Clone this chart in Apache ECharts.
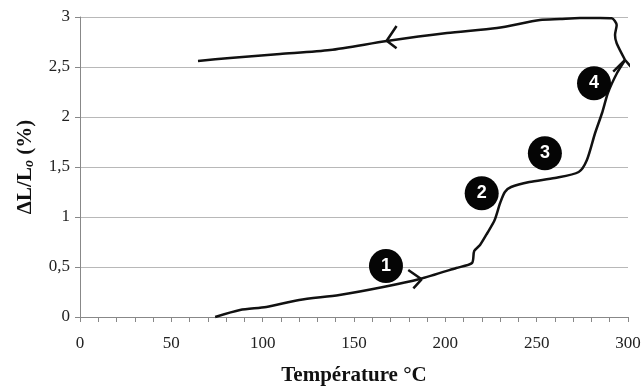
<!DOCTYPE html>
<html>
<head>
<meta charset="utf-8">
<script src="https://cdn.jsdelivr.net/npm/echarts@6/dist/echarts.min.js"></script>
<style>html,body{margin:0;padding:0;background:#fff}#c{width:641px;height:387px}</style>
</head>
<body>
<div id="c"></div>
<script>
// Heating branch [temperature °C, ΔL/L0 %]
var heating = [[74,0],[87.6,0.07],[102,0.10],[120,0.17],[142,0.22],[166,0.30],[186,0.38],[206,0.49],[214.6,0.54],[215.8,0.66],[219,0.72],[223,0.84],[227,0.97],[230,1.14],[232.6,1.25],[236,1.30],[246,1.35],[260,1.39],[273,1.45],[277.5,1.57],[282,1.84],[285.8,2.04],[289,2.24],[294,2.44],[298.4,2.57]];
// Cooling branch
var cooling = [[298.4,2.57],[293.8,2.737],[292.9,2.82],[293.8,2.92],[291.1,2.987],[284.7,2.99],[273.7,2.99],[262.8,2.98],[251.8,2.97],[228.3,2.89],[200.9,2.84],[168,2.76],[136.9,2.67],[109.5,2.63],[82.1,2.59],[64.6,2.56]];
// Arrow heads (arm, tip, arm)
var arrow1 = [[179.7,0.47],[187.0,0.377],[182.5,0.287]];
var arrow4 = [[291.9,2.453],[298.4,2.57],[305.4,2.42]];
var arrowCool = [[173.3,2.91],[167.9,2.763],[173.3,2.687]];
// Stage markers
var stageLabels = ['1','2','3','4'];
var stagePos = [[167.5,0.51],[219.9,1.237],[254.5,1.637],[281.4,2.337]];
// Axis ticks
var yTicks = [0,0.5,1,1.5,2,2.5,3];
var xTicks = [0,50,100,150,200,250,300];

var chart = echarts.init(document.getElementById('c'));
var serif = 'Liberation Serif';
function lineSeries(d, smooth){
  return {type:'line', data:d, smooth:smooth, symbol:'none', clip:false,
    lineStyle:{color:'#111', width:2.5}, z:3};
}
chart.setOption({
  animation:false,
  grid:{left:80, right:13, top:17, bottom:70, outerBoundsMode:'none', containLabel:false},
  xAxis:{type:'value', min:xTicks[0], max:xTicks[xTicks.length-1], interval:50,
    name:'Température °C', nameLocation:'middle', nameGap:48,
    nameTextStyle:{fontFamily:serif, fontWeight:'bold', fontSize:21, color:'#111'},
    axisLine:{show:true, lineStyle:{color:'#888', width:1}},
    axisTick:{show:true, length:5, lineStyle:{color:'#888'}},
    minorTick:{show:true, splitNumber:5, length:5, lineStyle:{color:'#888'}},
    splitLine:{show:false},
    axisLabel:{fontFamily:serif, fontSize:17, color:'#222', margin:18}
  },
  yAxis:{type:'value', min:yTicks[0], max:yTicks[yTicks.length-1], interval:0.5,
    name:'{a|ΔL/L}{s|o}{a| (%)}', nameLocation:'middle', nameGap:44,
    nameTextStyle:{rich:{
      a:{fontFamily:serif, fontWeight:'bold', fontSize:21, color:'#111'},
      s:{fontFamily:serif, fontWeight:'bold', fontStyle:'italic', fontSize:14, color:'#111', padding:[7,0,0,0]}
    }},
    axisLine:{show:true, lineStyle:{color:'#888', width:1}},
    axisTick:{show:true, length:5, lineStyle:{color:'#888'}},
    splitLine:{show:true, lineStyle:{color:'#b8b8b8', width:1.2}},
    axisLabel:{fontFamily:serif, fontSize:17, color:'#222', margin:10,
      formatter:function(v){return String(v).replace('.', ',');}}
  },
  series:[
    lineSeries(heating, 0.25),
    lineSeries(cooling, 0.25),
    lineSeries(arrow1, false),
    lineSeries(arrow4, false),
    lineSeries(arrowCool, false),
    {type:'scatter', z:5, symbol:'circle', symbolSize:34,
      itemStyle:{color:'#050505', opacity:1},
      data:stagePos.map(function(p,i){return {value:p, name:stageLabels[i]};}),
      label:{show:true, position:'inside', formatter:function(p){return p.name;},
        color:'#fff', fontFamily:'Liberation Sans', fontWeight:'bold', fontSize:18}
    }
  ]
});
</script>
</body>
</html>
